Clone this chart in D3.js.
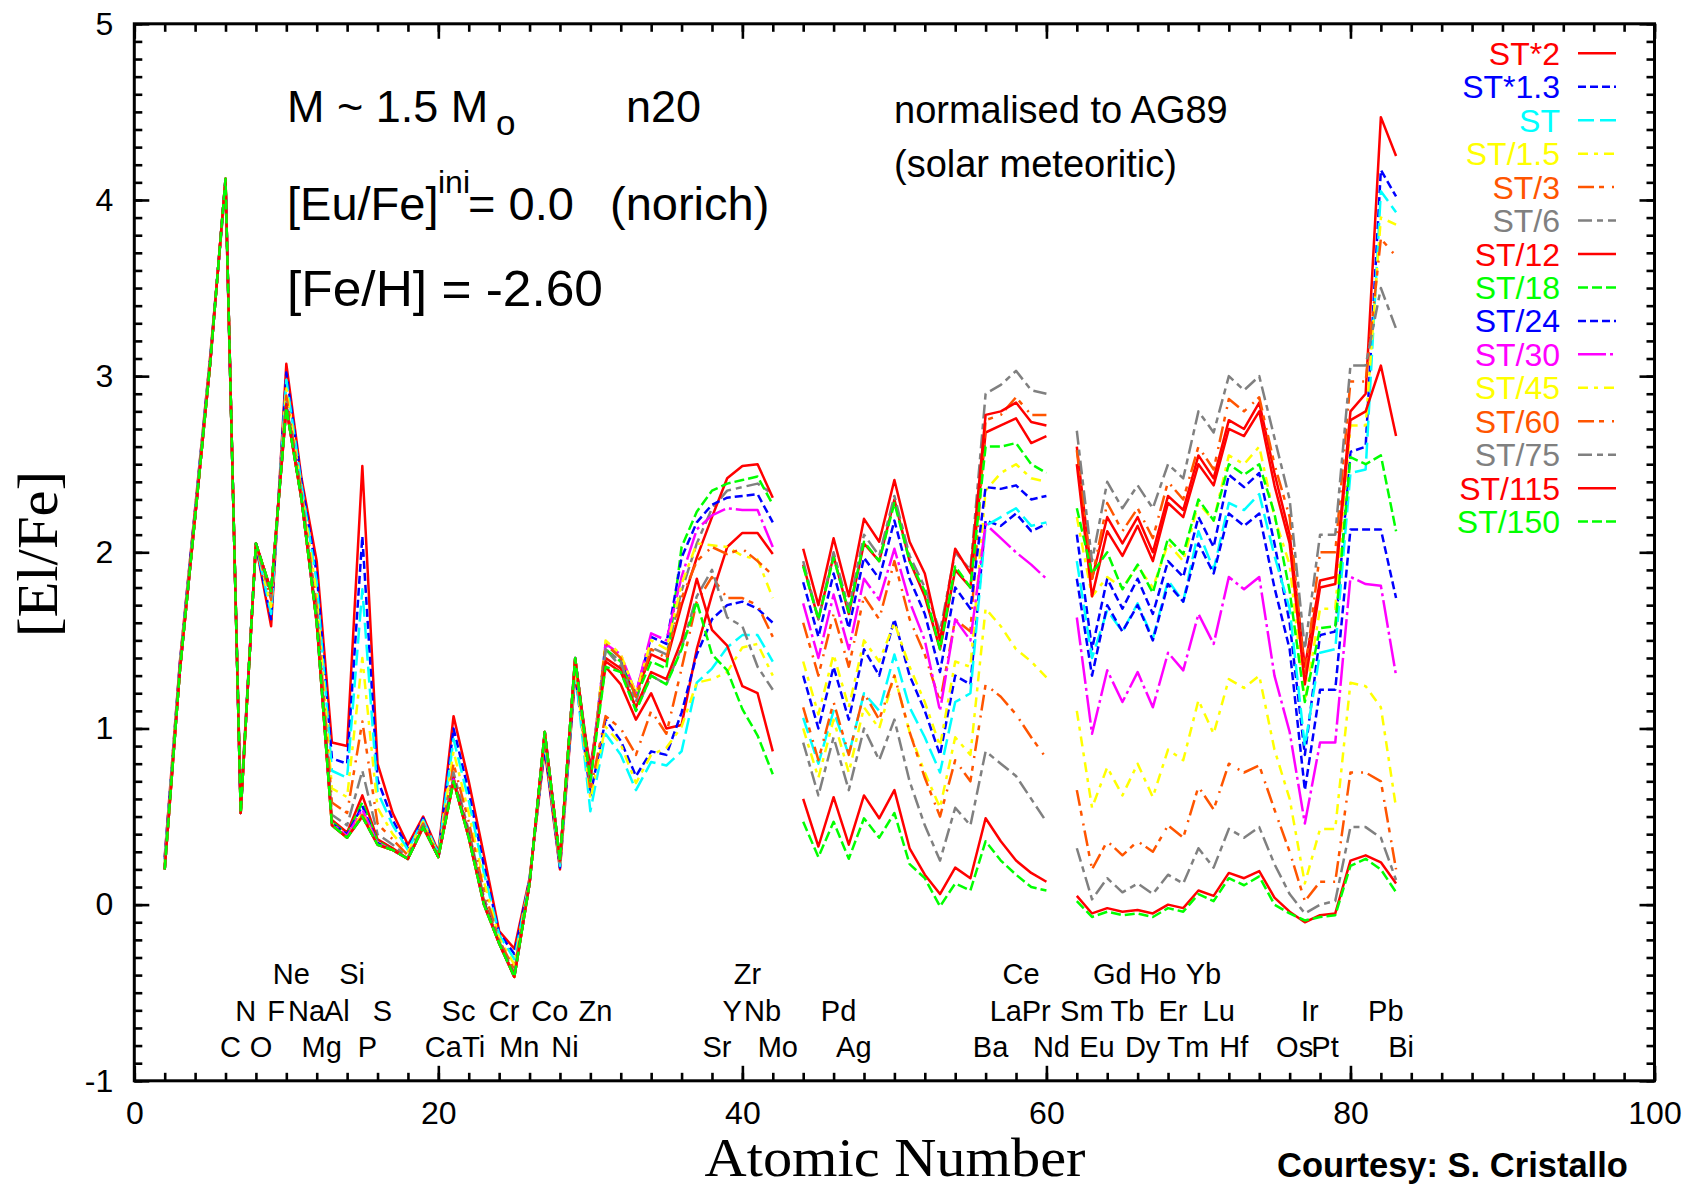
<!DOCTYPE html>
<html><head><meta charset="utf-8">
<script src="https://cdn.jsdelivr.net/npm/d3@7"></script>
<style>
html,body{margin:0;padding:0;background:#fff;}
svg{display:block;font-family:"Liberation Sans",Arial,Helvetica,sans-serif;}
</style></head><body>
<svg id="chart" width="1698" height="1189"></svg>
<script>
// ---------------- DATA ----------------
const atomicNumbers = [2,3,4,5,6,7,8,9,10,11,12,13,14,15,16,17,18,19,20,21,22,23,24,25,26,27,28,29,30,31,32,33,34,35,36,37,38,39,40,41,42,43,44,45,46,47,48,49,50,51,52,53,54,55,56,57,58,59,60,61,62,63,64,65,66,67,68,69,70,71,72,73,74,75,76,77,78,79,80,81,82,83];

const st_x2 = [.27,1.38,2.25,3.12,4.08,.56,2.04,1.58,3.07,2.42,1.95,.92,.90,2.49,.80,.52,.34,.50,.30,1.07,.70,.28,-.15,-.25,.15,.88,.20,1.30,.78,1.35,1.25,1.05,1.20,1.00,1.02,1.45,1.76,2.03,2.11,2.11,1.99,null,
1.93,1.62,1.98,1.65,2.05,1.95,2.30,1.95,1.75,1.45,1.90,1.80,2.68,2.72,2.76,2.62,2.66,null,
2.60,1.85,2.20,2.05,2.20,2.00,2.32,2.24,2.55,2.42,2.75,2.70,2.85,2.45,2.10,1.35,1.84,1.86,2.80,2.90,4.47,4.25];
const st_x13 = [.26,1.37,2.24,3.11,4.09,.55,2.04,1.62,3.02,2.40,1.88,.83,.80,2.09,.71,.48,.32,.49,.29,1.00,.64,.22,-.16,-.28,.14,.90,.21,1.32,.62,1.05,.93,.73,.87,.85,1.09,1.42,1.62,1.70,1.72,1.68,1.60,null,
1.30,1.00,1.35,1.05,1.45,1.30,1.62,1.30,1.10,.85,1.30,1.25,2.18,2.15,2.22,2.12,2.16,null,
2.10,1.45,1.85,1.68,1.85,1.65,1.95,1.86,2.20,2.03,2.44,2.37,2.45,2.05,1.60,.85,1.53,1.55,2.57,2.60,4.17,4.02];
const st_1 = [.25,1.36,2.23,3.11,4.09,.55,2.05,1.65,2.98,2.38,1.83,.76,.72,1.79,.64,.45,.31,.48,.29,.94,.59,.18,-.17,-.31,.14,.92,.22,1.33,.53,.97,.85,.65,.81,.79,.87,1.26,1.34,1.46,1.53,1.53,1.38,null,
1.06,.80,1.10,.85,1.20,1.10,1.42,1.12,.95,.75,1.15,1.20,2.15,2.20,2.25,2.15,2.17,null,
1.95,1.40,1.67,1.55,1.71,1.51,1.84,1.72,2.12,1.90,2.28,2.24,2.33,1.98,1.68,.90,1.43,1.45,2.45,2.47,4.05,3.93];
const st_d15 = [.23,1.35,2.22,3.10,4.10,.54,2.05,1.69,2.93,2.35,1.76,.66,.61,1.40,.55,.40,.30,.47,.28,.87,.52,.13,-.19,-.34,.13,.94,.23,1.36,.60,1.01,.91,.69,.85,.89,1.01,1.26,1.28,1.32,1.46,1.48,1.30,null,
1.38,1.08,1.42,1.12,1.50,1.38,1.60,1.35,1.15,.90,1.38,1.35,2.35,2.45,2.50,2.42,2.40,null,
2.20,1.75,1.86,1.80,1.92,1.80,2.05,1.95,2.28,2.18,2.55,2.50,2.60,2.20,1.93,1.15,1.68,1.68,2.72,2.72,3.90,3.86];
const st_d3 = [.22,1.34,2.21,3.09,4.11,.53,2.05,1.73,2.89,2.33,1.69,.58,.52,1.04,.46,.37,.28,.46,.28,.80,.47,.08,-.20,-.37,.13,.95,.24,1.37,.65,1.07,1.00,.85,1.10,.97,1.34,1.72,1.86,1.74,1.74,1.70,1.52,null,
1.60,1.30,1.65,1.35,1.75,1.62,1.95,1.62,1.42,1.15,1.62,1.55,2.75,2.78,2.88,2.78,2.78,null,
2.58,1.85,2.28,2.12,2.25,2.08,2.40,2.30,2.60,2.47,2.87,2.80,2.88,2.50,2.20,1.30,2.00,2.00,2.97,2.97,3.78,3.68];
const st_d6 = [.21,1.34,2.21,3.09,4.11,.53,2.05,1.75,2.85,2.32,1.65,.51,.45,.76,.40,.34,.27,.45,.27,.75,.42,.04,-.21,-.39,.12,.97,.24,1.39,.70,1.45,1.35,1.15,1.46,1.42,1.78,2.05,2.25,2.35,2.37,2.39,2.33,null,
1.95,1.62,2.00,1.68,2.10,1.98,2.32,1.98,1.80,1.55,2.00,1.90,2.90,2.95,3.03,2.92,2.90,null,
2.69,1.95,2.40,2.25,2.38,2.25,2.50,2.42,2.80,2.68,3.00,2.92,3.00,2.65,2.30,1.45,2.10,2.10,3.06,3.06,3.50,3.27];
const st_d12 = [.20,1.33,2.20,3.08,4.12,.52,2.05,1.77,2.84,2.31,1.62,.48,.41,.62,.37,.32,.26,.44,.27,.72,.40,.02,-.22,-.40,.12,.97,.25,1.39,.75,1.40,1.34,1.20,1.42,1.38,1.70,1.97,2.20,2.42,2.49,2.50,2.31,null,
2.02,1.70,2.08,1.75,2.19,2.06,2.41,2.06,1.88,1.50,2.02,1.88,2.78,2.80,2.85,2.74,2.72,null,
2.50,1.75,2.12,1.98,2.15,1.95,2.28,2.20,2.50,2.38,2.70,2.66,2.80,2.38,2.05,1.25,1.80,1.82,2.75,2.80,3.06,2.66];
const st_d18 = [.20,1.33,2.20,3.08,4.12,.52,2.05,1.78,2.83,2.30,1.61,.47,.40,.58,.36,.31,.26,.44,.27,.71,.39,.01,-.22,-.41,.12,.98,.25,1.40,.72,1.45,1.38,1.18,1.38,1.34,2.03,2.23,2.35,2.39,2.41,2.43,2.27,null,
1.92,1.62,1.97,1.66,2.06,1.95,2.28,1.95,1.78,1.45,1.92,1.80,2.60,2.60,2.62,2.50,2.45,null,
2.25,1.88,2.00,1.79,1.93,1.77,2.08,1.99,2.30,2.18,2.50,2.44,2.50,2.22,1.78,1.15,1.57,1.58,2.54,2.50,2.55,2.12];
const st_d24 = [.20,1.33,2.20,3.08,4.12,.52,2.05,1.78,2.83,2.30,1.61,.46,.40,.56,.35,.31,.26,.44,.27,.71,.39,.01,-.22,-.41,.12,.98,.25,1.40,.72,1.48,1.40,1.20,1.52,1.48,1.97,2.17,2.27,2.31,2.32,2.33,2.17,null,
1.83,1.52,1.88,1.57,1.97,1.85,2.18,1.85,1.65,1.32,1.80,1.68,2.37,2.36,2.38,2.30,2.32,null,
1.85,1.30,1.70,1.55,1.70,1.50,1.82,1.72,2.05,1.88,2.22,2.15,2.22,1.80,1.45,.65,1.22,1.22,2.13,2.13,2.13,1.74];
const st_d30 = [.20,1.33,2.20,3.08,4.12,.52,2.05,1.78,2.82,2.30,1.60,.46,.39,.54,.35,.31,.26,.44,.27,.71,.38,.00,-.22,-.41,.12,.98,.25,1.40,.72,1.48,1.42,1.20,1.54,1.50,1.86,2.13,2.21,2.25,2.24,2.24,2.03,null,
1.71,1.40,1.76,1.45,1.85,1.73,2.02,1.72,1.50,1.10,1.62,1.50,2.16,2.08,2.00,1.93,1.85,null,
1.63,.97,1.33,1.15,1.32,1.12,1.43,1.33,1.65,1.48,1.86,1.79,1.86,1.30,.98,.46,.92,.92,1.86,1.82,1.81,1.30];
const st_d45 = [.20,1.33,2.20,3.08,4.12,.52,2.05,1.78,2.82,2.30,1.60,.45,.38,.52,.34,.31,.26,.44,.27,.70,.38,.00,-.22,-.41,.12,.98,.25,1.40,.70,1.50,1.42,1.20,1.50,1.45,1.82,2.05,2.04,2.03,1.98,1.96,1.74,null,
1.00,.72,1.05,.75,1.12,1.00,1.30,.98,.75,.55,.95,.85,1.68,1.58,1.45,1.38,1.29,null,
1.10,.55,.78,.62,.80,.61,.88,.82,1.16,.97,1.28,1.23,1.30,.88,.60,.12,.43,.43,1.26,1.24,1.12,.55];
const st_d60 = [.20,1.33,2.20,3.08,4.12,.52,2.05,1.78,2.82,2.30,1.60,.45,.38,.51,.34,.31,.26,.44,.27,.70,.38,.00,-.22,-.41,.12,.98,.25,1.40,.70,1.48,1.40,1.18,1.45,1.40,1.74,1.95,2.03,1.99,2.02,1.95,1.87,null,
1.12,.82,1.15,.85,1.20,1.05,1.30,.98,.72,.50,.82,.70,1.25,1.18,1.08,.95,.83,null,
.65,.20,.36,.28,.36,.30,.45,.38,.67,.54,.80,.75,.79,.54,.30,.02,.13,.13,.75,.75,.70,.20];
const st_d75 = [.20,1.33,2.20,3.08,4.12,.52,2.05,1.78,2.82,2.30,1.60,.45,.38,.50,.34,.31,.26,.44,.27,.70,.38,.00,-.22,-.41,.12,.98,.25,1.40,.70,1.45,1.38,1.10,1.30,1.25,1.46,1.75,1.90,1.63,1.58,1.35,1.22,null,
.92,.62,.95,.65,1.00,.82,1.05,.70,.45,.25,.55,.45,.87,.80,.73,.60,.47,null,
.32,.03,.15,.07,.12,.06,.17,.12,.32,.21,.43,.38,.44,.23,.06,-.05,.00,.02,.44,.44,.38,.14];
const st_d115 = [.20,1.33,2.20,3.08,4.12,.52,2.05,1.78,2.82,2.30,1.60,.45,.38,.50,.34,.31,.26,.44,.27,.70,.38,.00,-.22,-.41,.12,.98,.25,1.40,.72,1.38,1.32,1.12,1.32,1.28,1.50,1.85,1.56,1.47,1.24,1.20,.87,null,
.60,.33,.61,.34,.62,.49,.65,.32,.17,.06,.21,.15,.49,.36,.25,.18,.13,null,
.05,-.05,-.02,-.04,-.03,-.05,.00,-.02,.08,.05,.18,.15,.19,.04,-.04,-.10,-.06,-.05,.25,.28,.24,.12];
const st_d150 = [.20,1.33,2.20,3.08,4.12,.52,2.05,1.78,2.82,2.30,1.60,.45,.38,.50,.34,.31,.26,.44,.27,.70,.38,.00,-.22,-.41,.12,.98,.25,1.40,.70,1.35,1.32,1.10,1.30,1.25,1.45,1.72,1.42,1.33,1.11,.96,.74,null,
.47,.27,.47,.26,.49,.38,.52,.23,.15,-.01,.12,.08,.36,.25,.17,.10,.08,null,
.02,-.07,-.04,-.06,-.05,-.07,-.02,-.04,.06,.02,.15,.11,.16,.00,-.05,-.09,-.07,-.06,.22,.26,.20,.07];

const seriesNames = ["ST*2","ST*1.3","ST","ST/1.5","ST/3","ST/6","ST/12","ST/18","ST/24","ST/30","ST/45","ST/60","ST/75","ST/115","ST/150"];
const seriesValues = [st_x2,st_x13,st_1,st_d15,st_d3,st_d6,st_d12,st_d18,st_d24,st_d30,st_d45,st_d60,st_d75,st_d115,st_d150];

const xTickValues = [0,20,40,60,80,100];
const yTickValues = [-1,0,1,2,3,4,5];

const elemSymbols = ["Ne","Si","Zr","Ce","Gd","Ho","Yb",
  "N","F","Na","Al","S","Sc","Cr","Co","Zn","Y","Nb","Pd","La","Pr","Sm","Tb","Er","Lu","Ir","Pb",
  "C","O","Mg","P","Ca","Ti","Mn","Ni","Sr","Mo","Ag","Ba","Nd","Eu","Dy","Tm","Hf","Os","Pt","Bi"];
const elemZ = [10,14,40,58,64,67,70,
  7,9,11,13,16,21,24,27,30,39,41,46,57,59,62,65,68,71,77,82,
  6,8,12,15,20,22,25,28,38,42,47,56,60,63,66,69,72,76,78,83];
const elemRow = [0,0,0,0,0,0,0,
  1,1,1,1,1,1,1,1,1,1,1,1,1,1,1,1,1,1,1,1,
  2,2,2,2,2,2,2,2,2,2,2,2,2,2,2,2,2,2,2,2];

// ---------------- STYLE ----------------
const RED="#ff0000", BLUE="#0000ff", CYAN="#00ffff", YEL="#ffff00", ORG="#ff5500", GRAY="#808080", GRN="#00ff00", MAG="#ff00ff";
const seriesColors = [RED,BLUE,CYAN,YEL,ORG,GRAY,RED,GRN,BLUE,MAG,YEL,ORG,GRAY,RED,GRN];
const DASH = {solid:null, blue:"8,4", cyan:"16,6", yel:"10,6,4,6", org:"16,5,5,8,2,5", gray:"14,5,6,5", grn:"10,4", mag:"28,4,3,4"};
const seriesDash = [DASH.solid,DASH.blue,DASH.cyan,DASH.yel,DASH.org,DASH.gray,DASH.solid,DASH.grn,DASH.blue,DASH.mag,DASH.yel,DASH.org,DASH.gray,DASH.solid,DASH.grn];

const svg = d3.select("#chart");
const x = d3.scaleLinear().domain([0,100]).range([134.3,1654.5]);
const y = d3.scaleLinear().domain([-1,5]).range([1080.8,23.8]);

svg.append("rect").attr("width",1698).attr("height",1189).attr("fill","#fff");

// data lines
const line = d3.line().defined(d => d[1] !== null).x(d => x(d[0])).y(d => y(d[1]));
const gLines = svg.append("g");
seriesValues.forEach((vals,i) => {
  const pts = atomicNumbers.map((z,k) => [z, vals[k]]);
  gLines.append("path").datum(pts)
    .attr("d", line)
    .attr("fill","none")
    .attr("stroke", seriesColors[i])
    .attr("stroke-width", 2.5)
    .attr("stroke-linejoin","round")
    .attr("stroke-dasharray", seriesDash[i]);
});

// axes
function styleAxis(g){
  g.select(".domain").remove();
  g.selectAll(".tick line").attr("stroke","#000").attr("stroke-width",2.6);
  g.selectAll("text").attr("font-size",32).attr("fill","#000")
    .attr("font-family",'"Liberation Sans",Arial,sans-serif');
}
const fmt = d => String(d);
const minorY = d3.range(-10,51).map(i => i/10);
const minorX = d3.range(0,101,2);

svg.append("g").attr("transform",`translate(${x(0)},0)`)
  .call(d3.axisLeft(y).tickValues(yTickValues).tickSize(-15).tickPadding(21).tickFormat(fmt)).call(styleAxis);
svg.append("g").attr("transform",`translate(${x(0)},0)`)
  .call(d3.axisLeft(y).tickValues(minorY).tickSize(-8).tickFormat("")).call(styleAxis);
svg.append("g").attr("transform",`translate(${x(100)},0)`)
  .call(d3.axisRight(y).tickValues(yTickValues).tickSize(-15).tickFormat("")).call(styleAxis);
svg.append("g").attr("transform",`translate(${x(100)},0)`)
  .call(d3.axisRight(y).tickValues(minorY).tickSize(-8).tickFormat("")).call(styleAxis);

svg.append("g").attr("transform",`translate(0,${y(-1)})`)
  .call(d3.axisBottom(x).tickValues(xTickValues).tickSize(-15).tickPadding(20).tickFormat(fmt)).call(styleAxis);
svg.append("g").attr("transform",`translate(0,${y(-1)})`)
  .call(d3.axisBottom(x).tickValues(minorX).tickSize(-8).tickFormat("")).call(styleAxis);
svg.append("g").attr("transform",`translate(0,${y(5)})`)
  .call(d3.axisTop(x).tickValues(xTickValues).tickSize(-15).tickFormat("")).call(styleAxis);
svg.append("g").attr("transform",`translate(0,${y(5)})`)
  .call(d3.axisTop(x).tickValues(minorX).tickSize(-8).tickFormat("")).call(styleAxis);

svg.append("rect").attr("x",x(0)).attr("y",y(5)).attr("width",x(100)-x(0)).attr("height",y(-1)-y(5))
  .attr("fill","none").attr("stroke","#000").attr("stroke-width",3);

// axis titles
svg.append("text").attr("x",895).attr("y",1176).attr("text-anchor","middle")
  .attr("font-family",'"Liberation Serif","Times New Roman",serif').attr("font-size",55)
  .attr("textLength",381).attr("lengthAdjust","spacingAndGlyphs").text("Atomic Number");
svg.append("text").attr("transform","translate(57,554) rotate(-90)").attr("text-anchor","middle")
  .attr("font-family",'"Liberation Serif","Times New Roman",serif').attr("font-size",56)
  .attr("textLength",166).attr("lengthAdjust","spacingAndGlyphs").text("[El/Fe]");

svg.append("text").attr("x",1277).attr("y",1177).attr("font-size",34.5).attr("font-weight","bold").text("Courtesy: S. Cristallo");

// element labels
const rowBase = [984,1021,1057];
svg.append("g").selectAll("text").data(elemSymbols).join("text")
  .attr("x",(d,i) => x(elemZ[i]) + 5)
  .attr("y",(d,i) => rowBase[elemRow[i]])
  .attr("text-anchor","middle").attr("font-size",29).attr("fill","#000")
  .text(d => d);

// annotations
svg.append("text").attr("x",287).attr("y",122).attr("font-size",45).text("M ~ 1.5 M");
svg.append("text").attr("x",496).attr("y",135).attr("font-size",35).text("o");
svg.append("text").attr("x",626).attr("y",122).attr("font-size",45).text("n20");

svg.append("text").attr("x",287).attr("y",220).attr("font-size",47).text("[Eu/Fe]");
svg.append("text").attr("x",438).attr("y",193).attr("font-size",32).text("ini");
svg.append("text").attr("x",468).attr("y",220).attr("font-size",47).text("= 0.0");
svg.append("text").attr("x",610).attr("y",220).attr("font-size",47).text("(norich)");
svg.append("text").attr("x",287).attr("y",306).attr("font-size",50)
  .attr("textLength",316).attr("lengthAdjust","spacingAndGlyphs").text("[Fe/H] = -2.60");

svg.append("text").attr("x",894).attr("y",123).attr("font-size",38).text("normalised to AG89");
svg.append("text").attr("x",894).attr("y",177).attr("font-size",38).text("(solar meteoritic)");

// legend
const lg = svg.append("g");
seriesNames.forEach((name,i) => {
  const cy = 53.3 + i*33.45;
  lg.append("text").attr("x",1560).attr("y",cy).attr("dy","0.36em").attr("text-anchor","end")
    .attr("font-size",32).attr("fill",seriesColors[i]).text(name);
  lg.append("line").attr("x1",1578).attr("x2",1616).attr("y1",cy).attr("y2",cy)
    .attr("stroke",seriesColors[i]).attr("stroke-width",2.5).attr("stroke-dasharray",seriesDash[i]);
});
</script>
</body></html>
